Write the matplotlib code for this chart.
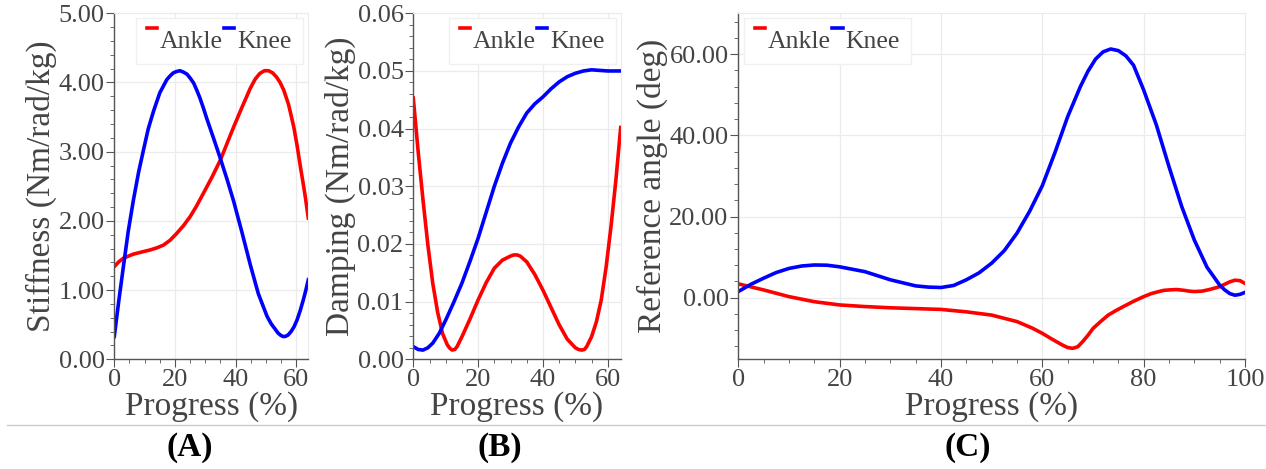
import numpy as np
import matplotlib.pyplot as plt
from matplotlib.ticker import AutoMinorLocator, FormatStrFormatter
from matplotlib.lines import Line2D
from matplotlib.legend_handler import HandlerLine2D

plt.rcParams['font.family'] = ['Liberation Serif', 'DejaVu Serif']

# (A) stiffness
xa_ankle = [0, 1.5, 3, 4.6, 6.3, 9, 11.8, 14, 16.2, 18.4, 20.6, 22.8, 25, 27.2, 29.4, 32.2, 35, 37.2, 39.4, 42.2, 44.9, 46.5, 48, 49.5, 50.9, 52.2, 53.5, 54.7, 55.9, 57.5, 59.2, 60.3, 61.4, 62.2, 63, 64]
ya_ankle = [1.34, 1.41, 1.46, 1.49, 1.52, 1.55, 1.58, 1.61, 1.65, 1.72, 1.82, 1.93, 2.06, 2.22, 2.40, 2.63, 2.88, 3.12, 3.36, 3.65, 3.92, 4.05, 4.13, 4.17, 4.17, 4.14, 4.08, 4.00, 3.89, 3.68, 3.36, 3.09, 2.78, 2.57, 2.35, 2.04]
xa_knee = [0, 1.5, 3, 4.6, 6.3, 8, 9.6, 11.2, 12.9, 15, 17.3, 18.5, 19.5, 20.6, 21.7, 22.8, 24, 25.1, 26.2, 27.2, 28.3, 29.4, 30.5, 32.7, 35, 37.2, 39.4, 42.2, 44.9, 47.5, 50.4, 51.8, 53, 54, 54.8, 55.6, 56.4, 57.3, 58.3, 59.3, 60.3, 61.3, 62.3, 63.2, 64]
ya_knee = [0.33, 0.85, 1.34, 1.85, 2.30, 2.70, 3.02, 3.33, 3.58, 3.85, 4.04, 4.10, 4.14, 4.16, 4.17, 4.15, 4.12, 4.06, 3.99, 3.89, 3.77, 3.63, 3.48, 3.20, 2.90, 2.60, 2.28, 1.82, 1.36, 0.95, 0.62, 0.51, 0.44, 0.38, 0.35, 0.33, 0.33, 0.35, 0.40, 0.47, 0.57, 0.70, 0.85, 1.00, 1.15]

# (B) damping
xb_ankle = [0, 1.5, 3, 4.5, 6, 7.5, 9, 10.5, 11.3, 12, 12.8, 13.5, 15, 17.5, 20, 22.5, 25, 27.5, 30, 31, 32, 33, 35, 37.5, 40, 42.5, 45, 47.5, 50, 51, 52, 52.8, 53.5, 55, 56.5, 58, 59.5, 61, 62.5, 64]
yb_ankle = [0.0453, 0.036, 0.0276, 0.0198, 0.0132, 0.0082, 0.0045, 0.0025, 0.0019, 0.0016, 0.0017, 0.0022, 0.0039, 0.0070, 0.0103, 0.0133, 0.0158, 0.0172, 0.0179, 0.0181, 0.0181, 0.0179, 0.0169, 0.0147, 0.0120, 0.0090, 0.0060, 0.0035, 0.0020, 0.0017, 0.0016, 0.0017, 0.0022, 0.0039, 0.0065, 0.0103, 0.0160, 0.0230, 0.0310, 0.0402]
xb_knee = [0, 1.5, 3, 4.5, 6, 8, 10, 12.5, 15, 17.5, 20, 22.5, 25, 27.5, 30, 32.5, 35, 37.5, 40, 42.5, 45, 47.5, 50, 52.5, 55, 57.5, 60, 62, 64]
yb_knee = [0.0022, 0.0017, 0.0016, 0.0020, 0.0028, 0.0045, 0.0068, 0.0099, 0.0132, 0.0170, 0.0210, 0.0255, 0.0300, 0.0340, 0.0375, 0.0403, 0.0427, 0.0443, 0.0455, 0.0469, 0.0481, 0.0490, 0.0496, 0.0500, 0.0502, 0.0501, 0.0500, 0.0500, 0.0500]

# (C) reference angle
xc_ankle = [0, 5, 10, 15, 20, 25, 30, 35, 40, 45, 50, 55, 58, 60, 62, 64, 65, 66, 67, 68, 69, 70, 71.5, 73, 74.5, 76, 78, 80, 81.5, 83, 84, 85, 86.5, 88, 89, 90, 91.5, 93, 95, 96, 97, 98, 99, 100]
yc_ankle = [3.4, 1.9, 0.25, -1.0, -1.8, -2.2, -2.5, -2.7, -2.9, -3.5, -4.3, -5.9, -7.5, -8.8, -10.3, -11.7, -12.3, -12.5, -12.1, -10.8, -9.3, -7.6, -5.9, -4.3, -3.2, -2.2, -0.9, 0.25, 1.0, 1.5, 1.8, 1.9, 2.0, 1.8, 1.6, 1.5, 1.6, 2.0, 2.7, 3.3, 3.9, 4.3, 4.2, 3.5]
xc_knee = [0, 2.5, 5, 7.5, 10, 12.5, 15, 17.5, 20, 25, 30, 35, 37.5, 40, 42.5, 45, 47.5, 50, 52.5, 55, 57.5, 60, 62.5, 65, 67.5, 69, 70.5, 72, 73.5, 75, 76.5, 78, 80, 82.5, 85, 87.5, 90, 92.5, 95, 96, 97, 98, 99, 100]
yc_knee = [1.5, 3.3, 4.8, 6.2, 7.2, 7.8, 8.05, 8.0, 7.6, 6.4, 4.4, 2.9, 2.6, 2.5, 3.0, 4.4, 6.1, 8.5, 11.6, 15.9, 21.3, 27.6, 35.8, 44.6, 52.0, 55.8, 58.8, 60.6, 61.3, 60.9, 59.6, 57.3, 51.2, 42.6, 32.3, 22.5, 14.2, 7.5, 3.1, 1.9, 1.0, 0.6, 0.8, 1.3]

W, H = 1266, 469
fig = plt.figure(figsize=(W / 100, H / 100), dpi=100)

txt = '#444444'
red = '#ff0000'
blue = '#0000ff'


class RaisedLine(HandlerLine2D):
    # short legend mark sitting near the cap height of the text
    def create_artists(self, legend, orig_handle, xdescent, ydescent, width, height, fontsize, trans):
        arts = super().create_artists(legend, orig_handle, xdescent, ydescent, width, height, fontsize, trans)
        for a in arts:
            a.set_ydata([y + 0.6 * height for y in a.get_ydata()])
        return arts


def style(ax, xlim, ylim, yticks, xticks, ylabel, leg_box):
    ax.set_xlim(*xlim)
    ax.set_ylim(*ylim)
    ax.set_xticks(xticks)
    ax.set_yticks(yticks)
    ax.yaxis.set_major_formatter(FormatStrFormatter('%.2f'))
    ax.xaxis.set_minor_locator(AutoMinorLocator(4))
    ax.yaxis.set_minor_locator(AutoMinorLocator(5))
    ax.grid(True, which='major', color='#ebebeb', lw=0.9)
    ax.set_axisbelow(True)
    for s in ['top', 'right']:
        ax.spines[s].set_color('#ebebeb')
    for s in ['left', 'bottom']:
        ax.spines[s].set_color('#555555')
        ax.spines[s].set_linewidth(1.0)
    ax.tick_params(which='major', length=6, color='#555555', labelsize=19, labelcolor=txt, pad=1)
    ax.tick_params(which='minor', length=3, color='#555555')
    ax.set_xlabel('Progress (%)', fontsize=24, color=txt, labelpad=0)
    ax.set_ylabel(ylabel, fontsize=24, color=txt, labelpad=1)
    x0, y0, loc = leg_box
    ax.legend(loc=loc, bbox_to_anchor=(x0, y0), bbox_transform=fig.transFigure,
              ncol=2, fontsize=18.5, handlelength=0.4, handleheight=0.7,
              handletextpad=0.1, columnspacing=0.05, borderpad=0.45, borderaxespad=0,
              fancybox=False, framealpha=1, edgecolor='#f0f0f0', labelcolor=txt,
              handler_map={Line2D: RaisedLine()})


bottom = 1 - 359.3 / H
height = 346 / H

axA = fig.add_axes([114.3 / W, bottom, 194 / W, height])
axA.plot(xa_ankle, ya_ankle, color=red, lw=2.6, label='Ankle')
axA.plot(xa_knee, ya_knee, color=blue, lw=2.6, label='Knee')
style(axA, (0, 64), (0, 5), [0, 1, 2, 3, 4, 5], [0, 20, 40, 60],
      'Stiffness (Nm/rad/kg)', (303 / W, 1 - 18 / H, 'upper right'))

axB = fig.add_axes([413.3 / W, bottom, 207.4 / W, height])
axB.plot(xb_ankle, yb_ankle, color=red, lw=2.6, label='Ankle')
axB.plot(xb_knee, yb_knee, color=blue, lw=2.6, label='Knee')
style(axB, (0, 64), (0, 0.06), [0, 0.01, 0.02, 0.03, 0.04, 0.05, 0.06], [0, 20, 40, 60],
      'Damping (Nm/rad/kg)', (616 / W, 1 - 18 / H, 'upper right'))

axC = fig.add_axes([738.3 / W, bottom, 506.7 / W, height])
axC.plot(xc_ankle, yc_ankle, color=red, lw=2.6, label='Ankle')
axC.plot(xc_knee, yc_knee, color=blue, lw=2.6, label='Knee')
style(axC, (0, 100), (-15.2, 70.1), [0, 20, 40, 60], [0, 20, 40, 60, 80, 100],
      'Reference angle (deg)', (743.6 / W, 1 - 18 / H, 'upper left'))

# separator and panel letters
fig.add_artist(Line2D([7 / W, 1], [1 - 425 / H, 1 - 425 / H], color='#cccccc', lw=1))
for xc, lab in [(190, '(A)'), (500, '(B)'), (968, '(C)')]:
    fig.text(xc / W, 1 - 447 / H, lab, ha='center', va='center',
             fontsize=24, fontweight='bold', color='black')

fig.savefig('out.png', dpi=100)
